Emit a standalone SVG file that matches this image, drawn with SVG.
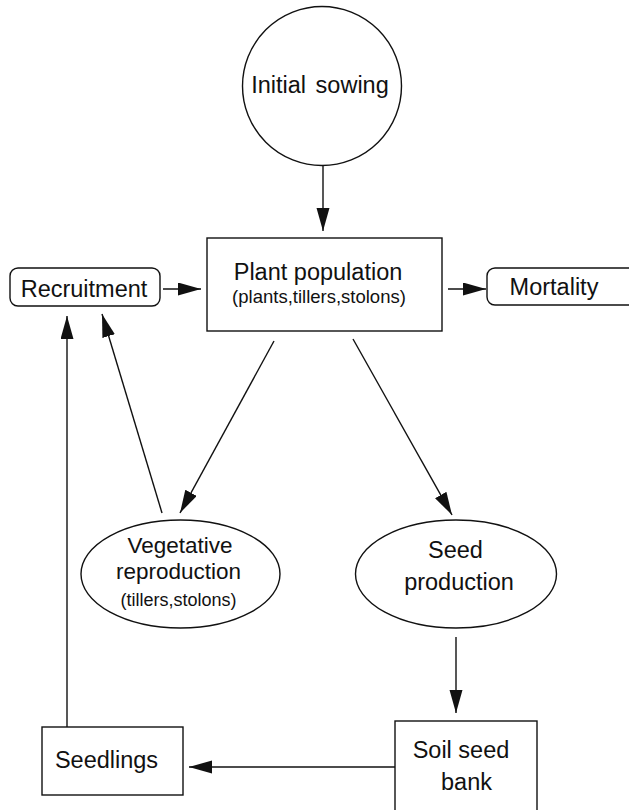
<svg xmlns="http://www.w3.org/2000/svg" width="629" height="810" viewBox="0 0 629 810">
<style>
.s{fill:none;stroke:#111;stroke-width:1.4}
.t{font-family:"Liberation Sans",Arial,sans-serif;fill:#111;text-anchor:middle}
.big{font-size:23.5px}
.small{font-size:18.5px}
.c{fill:none;stroke:#111;stroke-width:1.4}
</style>
<defs>
<marker id="ah" markerUnits="userSpaceOnUse" markerWidth="24" markerHeight="14" refX="23" refY="6.5" orient="auto">
<path d="M0,0 L23,6.5 L0,13 Z" fill="#111"/>
</marker>
</defs>
<rect width="629" height="810" fill="#fff"/>
<g id="initial-sowing">
<circle class="s" cx="322" cy="86" r="79.5"/>
<text class="t big" x="320" y="93" word-spacing="3">Initial sowing</text>
</g>
<g id="plant-population">
<rect class="s" x="207" y="238" width="235" height="93"/>
<text class="t big" x="318" y="280">Plant population</text>
<text class="t small" x="319" y="303">(plants,tillers,stolons)</text>
</g>
<g id="recruitment">
<rect class="s" x="10" y="268" width="150" height="38" rx="8"/>
<text class="t big" x="84" y="297">Recruitment</text>
</g>
<g id="mortality">
<rect class="s" x="487" y="268" width="160" height="37" rx="8"/>
<text class="t big" x="554" y="295">Mortality</text>
</g>
<g id="vegetative-reproduction">
<ellipse class="s" cx="180.5" cy="574" rx="99.5" ry="54"/>
<text class="t" style="font-size:22.5px" x="180" y="553">Vegetative</text>
<text class="t" style="font-size:22.5px" x="178.5" y="579">reproduction</text>
<text class="t" style="font-size:18px" x="178.5" y="606">(tillers,stolons)</text>
</g>
<g id="seed-production">
<ellipse class="s" cx="456" cy="574" rx="100.5" ry="54"/>
<text class="t big" x="455.5" y="558">Seed</text>
<text class="t big" x="459" y="590">production</text>
</g>
<g id="soil-seed-bank">
<rect class="s" x="395" y="721" width="142" height="100"/>
<text class="t big" x="461" y="758">Soil seed</text>
<text class="t big" x="466.5" y="790">bank</text>
</g>
<g id="seedlings">
<rect class="s" x="42" y="727" width="141" height="68"/>
<text class="t big" x="106.5" y="768">Seedlings</text>
</g>
<g id="connectors">
<line class="c" x1="323" y1="166" x2="323" y2="231" marker-end="url(#ah)"/>
<line class="c" x1="163" y1="289" x2="201" y2="289" marker-end="url(#ah)"/>
<line class="c" x1="448" y1="289" x2="486" y2="289" marker-end="url(#ah)"/>
<line class="c" x1="274" y1="341" x2="180" y2="513" marker-end="url(#ah)"/>
<line class="c" x1="353" y1="339" x2="452" y2="515" marker-end="url(#ah)"/>
<line class="c" x1="162" y1="513" x2="102" y2="314" marker-end="url(#ah)"/>
<line class="c" x1="67" y1="727" x2="67" y2="316" marker-end="url(#ah)"/>
<line class="c" x1="456" y1="637" x2="456" y2="713" marker-end="url(#ah)"/>
<line class="c" x1="395" y1="767" x2="189" y2="767" marker-end="url(#ah)"/>
</g>
</svg>
